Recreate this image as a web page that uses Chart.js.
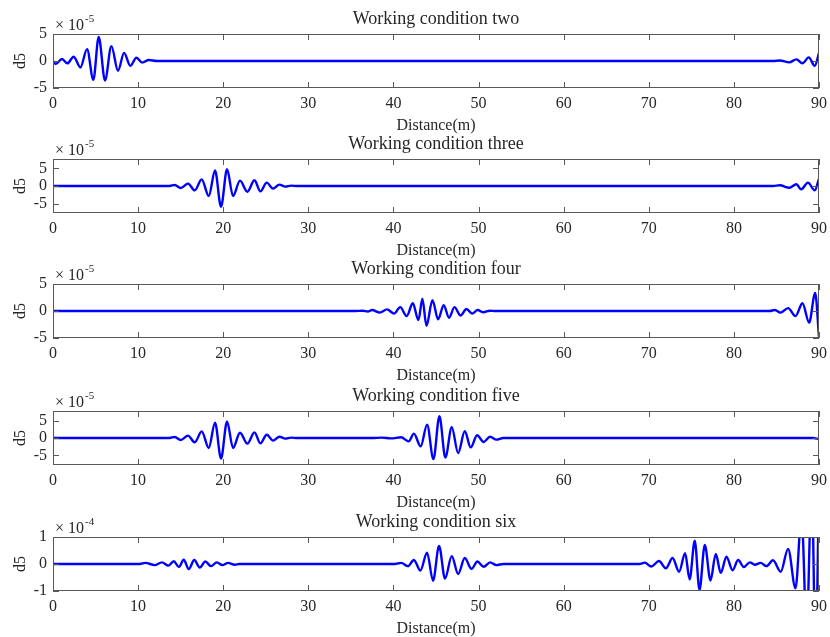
<!DOCTYPE html>
<html>
<head>
<meta charset="utf-8">
<script src="https://cdn.jsdelivr.net/npm/chart.js@4.4.0/dist/chart.umd.min.js"></script>
<style>
  html, body { margin: 0; padding: 0; background: #fff; overflow: hidden; }
  #wrap { position: relative; width: 830px; height: 637px; }
  #wrap canvas { position: absolute; left: 0; }
</style>
</head>
<body>
<div id="wrap"></div>
<script>
  // d5 detail coefficients along the pipe, values in units of the axis exponent
  const distTwo = [0, 0.31, 1.06, 1.69, 2.43, 3.22, 4.0, 4.74, 5.37, 6.11, 6.86, 7.64, 8.35, 9.09, 9.8, 10.5, 11.25, 12.2,
    84.6, 85.4, 86.5, 87.35, 88.06, 88.8, 89.5, 90];
  const d5Two = [0, -0.55, 0.37, -0.43, 0.8, -1.2, 2.2, -3.5, 4.45, -3.6, 2.75, -1.8, 1.5, -0.9, 0.6, -0.3, 0.18, 0,
    0, 0.1, -0.25, 0.3, -0.43, 0.67, -0.9, 1.5];

  const distThree = [0, 13.7, 14.3, 15.0, 15.87, 16.65, 17.47, 18.3, 19.04, 19.74, 20.45, 21.15, 21.97, 22.84, 23.67, 24.37,
    25.11, 25.85, 26.6, 27.3, 28.0, 28.7, 84.6, 85.4, 86.5, 87.35, 87.9, 88.7, 89.5, 90];
  const d5Three = [0, 0, 0.3, -0.57, 0.67, -1.24, 1.9, -2.86, 4.4, -5.9, 4.76, -2.86, 1.52, -1.62, 1.62, -1.52,
    0.95, -0.76, 0.38, -0.19, 0.1, 0, 0, 0.2, -0.5, 0.5, -0.95, 0.95, -1.24, 2.1];

  const distFour = [0, 35.5, 36.4, 37.0, 37.5, 38.4, 39.25, 40.07, 40.8, 41.56, 42.27, 42.94, 43.4, 43.88, 44.58, 45.25,
    45.9, 46.54, 47.17, 47.87, 48.58, 49.24, 49.9, 50.57, 51.3, 52.0,
    84.2, 84.8, 85.47, 86.37, 87.24, 88.06, 88.84, 89.55, 90];
  const d5Four = [0, 0, 0.06, -0.1, 0.18, -0.3, 0.3, -0.48, 0.71, -0.95, 1.43, -1.67, 2.26, -2.74, 2.0, -1.55,
    1.07, -1.25, 0.71, -0.83, 0.36, -0.48, 0.18, -0.24, 0.06, 0,
    0, 0.18, -0.3, 0.54, -0.95, 1.43, -2.14, 3.33, -4.8];

  const distFive = [0, 13.7, 14.3, 15.0, 15.87, 16.65, 17.47, 18.3, 19.04, 19.74, 20.45, 21.15, 21.97, 22.84, 23.67, 24.37,
    25.11, 25.85, 26.6, 27.3, 28.0, 28.7, 37.5, 38.6, 39.7, 40.9, 41.8, 42.4, 43.2, 43.95, 44.7, 45.4, 46.1, 46.85,
    47.6, 48.38, 49.08, 49.83, 50.6, 51.35, 52.1, 52.9, 89.3, 90];
  const d5Five = [0, 0, 0.3, -0.57, 0.67, -1.24, 1.9, -2.86, 4.4, -5.9, 4.76, -2.86, 1.52, -1.62, 1.62, -1.52,
    0.95, -0.76, 0.38, -0.19, 0.1, 0, 0, 0.1, -0.1, 0.2, -0.96, 1.25, -2.4, 3.85, -6.06, 6.25, -5.58, 3.08,
    -4.33, 1.92, -2.7, 0.77, -1.15, 0.38, -0.48, 0, 0, -0.3];

  const distSix = [0, 10.2, 10.85, 11.95, 12.8, 13.55, 14.18, 14.8, 15.36, 15.95, 16.6, 17.24, 17.9, 18.57, 19.24, 19.9,
    20.57, 21.35, 21.9,
    40.2, 40.9, 41.7, 42.4, 43.17, 43.95, 44.65, 45.36, 46.06, 46.85, 47.6, 48.38, 49.17, 49.87, 50.6, 51.35, 52.1, 52.9,
    68.9, 69.53, 70.3, 71.2, 72.0, 72.8, 73.56, 74.27, 74.8, 75.4, 75.96, 76.58, 77.25, 77.87, 78.46, 79.13, 79.84,
    80.5, 81.16, 81.87, 82.46, 83.13, 83.83, 84.6, 85.5, 86.37, 87.24, 87.95, 88.55, 89.15, 89.6, 90];
  const d5Six = [0, 0, 0.04, -0.04, 0.06, -0.06, 0.1, -0.11, 0.16, -0.19, 0.15, -0.13, 0.09, -0.08, 0.06, -0.04,
    0.04, -0.025, 0,
    0, 0.04, -0.08, 0.15, -0.24, 0.42, -0.62, 0.67, -0.54, 0.29, -0.37, 0.22, -0.18, 0.09, -0.1, 0.06, -0.04, 0,
    0, 0.05, -0.09, 0.11, -0.16, 0.22, -0.29, 0.4, -0.57, 0.86, -0.96, 0.71, -0.61, 0.37, -0.33, 0.27, -0.23,
    0.15, -0.11, 0.06, -0.03, 0.04, -0.08, 0.14, -0.29, 0.56, -0.9, 1.8, -2.4, 3.0, -3.5, 3.0];

  const titles = ['Working condition two', 'Working condition three', 'Working condition four',
    'Working condition five', 'Working condition six'];
  const exponents = ['-5', '-5', '-5', '-5', '-4'];
  const yTicks = [[-5, 0, 5], [-5, 0, 5], [-5, 0, 5], [-5, 0, 5], [-1, 0, 1]];
  const xTitle = 'Distance(m)';
  const yTitle = 'd5';

  const series = [[distTwo, d5Two], [distThree, d5Three], [distFour, d5Four], [distFive, d5Five], [distSix, d5Six]];
  const yLimits = [5, 7.7, 5, 7.75, 1];
  const panelTops = [0, 125, 250, 377, 503];

  const family = '"Liberation Serif", "Times New Roman", serif';
  const textColor = '#262626';

  // box round the axes with inward ticks, plus the x10^n multiplier
  const axesFrame = {
    id: 'axesFrame',
    afterDraw(chart, args, opts) {
      const { ctx, chartArea: a, scales } = chart;
      ctx.save();
      ctx.strokeStyle = '#595959';
      ctx.lineWidth = 1;
      ctx.strokeRect(a.left + 0.5, a.top + 0.5, a.right - a.left - 1, a.bottom - a.top - 1);
      ctx.beginPath();
      scales.x.ticks.forEach(t => {
        const px = Math.round(scales.x.getPixelForValue(t.value)) + 0.5;
        ctx.moveTo(px, a.top); ctx.lineTo(px, a.top + 6);
        ctx.moveTo(px, a.bottom); ctx.lineTo(px, a.bottom - 6);
      });
      scales.y.ticks.forEach(t => {
        const py = Math.round(scales.y.getPixelForValue(t.value)) + 0.5;
        ctx.moveTo(a.left, py); ctx.lineTo(a.left + 6, py);
        ctx.moveTo(a.right, py); ctx.lineTo(a.right - 6, py);
      });
      ctx.stroke();

      ctx.fillStyle = textColor;
      ctx.textBaseline = 'alphabetic';
      ctx.textAlign = 'left';
      ctx.font = '16px ' + family;
      ctx.fillText('\u00d7 10', a.left + 2, a.top - 4);
      const w = ctx.measureText('\u00d7 10').width;
      ctx.font = '11px ' + family;
      ctx.fillText(opts.exponent, a.left + 3 + w, a.top - 12);
      ctx.restore();
    }
  };

  const wrap = document.getElementById('wrap');

  series.forEach(([dist, vals], i) => {
    const canvas = document.createElement('canvas');
    canvas.width = 830;
    canvas.height = 140;
    canvas.style.top = panelTops[i] + 'px';
    wrap.appendChild(canvas);

    new Chart(canvas, {
      type: 'line',
      data: {
        datasets: [{
          data: dist.map((x, k) => ({ x: x, y: vals[k] })),
          borderColor: '#0000ff',
          borderWidth: 2.4,
          pointRadius: 0,
          cubicInterpolationMode: 'monotone',
          fill: false
        }]
      },
      options: {
        responsive: false,
        animation: false,
        events: [],
        layout: { padding: { left: 0, right: 11, top: 0, bottom: 0 } },
        plugins: {
          legend: { display: false },
          tooltip: { enabled: false },
          title: {
            display: true,
            text: titles[i],
            fullSize: false,
            color: textColor,
            font: { family: family, size: 18, weight: 'normal' },
            padding: { top: 8.7, bottom: 3.7 }
          },
          axesFrame: { exponent: exponents[i] }
        },
        scales: {
          x: {
            type: 'linear',
            min: 0,
            max: 90,
            grid: { display: false, drawTicks: false },
            border: { display: false },
            ticks: { stepSize: 10, color: textColor, font: { family: family, size: 16 }, padding: 6 },
            title: {
              display: true,
              text: xTitle,
              color: textColor,
              font: { family: family, size: 16 },
              padding: { top: 0, bottom: 5 }
            },
            afterFit: s => { s.height = 52; s.paddingLeft = 0; s.paddingRight = 0; }
          },
          y: {
            min: -yLimits[i],
            max: yLimits[i],
            grid: { display: false, drawTicks: false },
            border: { display: false },
            ticks: { color: textColor, font: { family: family, size: 16 }, padding: 6 },
            afterBuildTicks: s => { s.ticks = yTicks[i].map(v => ({ value: v })); },
            title: {
              display: true,
              text: yTitle,
              color: textColor,
              font: { family: family, size: 16 },
              padding: { top: 11, bottom: 0 }
            },
            afterFit: s => { s.width = 53; s.paddingTop = 0; s.paddingBottom = 0; }
          }
        }
      },
      plugins: [axesFrame]
    });
  });
</script>
</body>
</html>
